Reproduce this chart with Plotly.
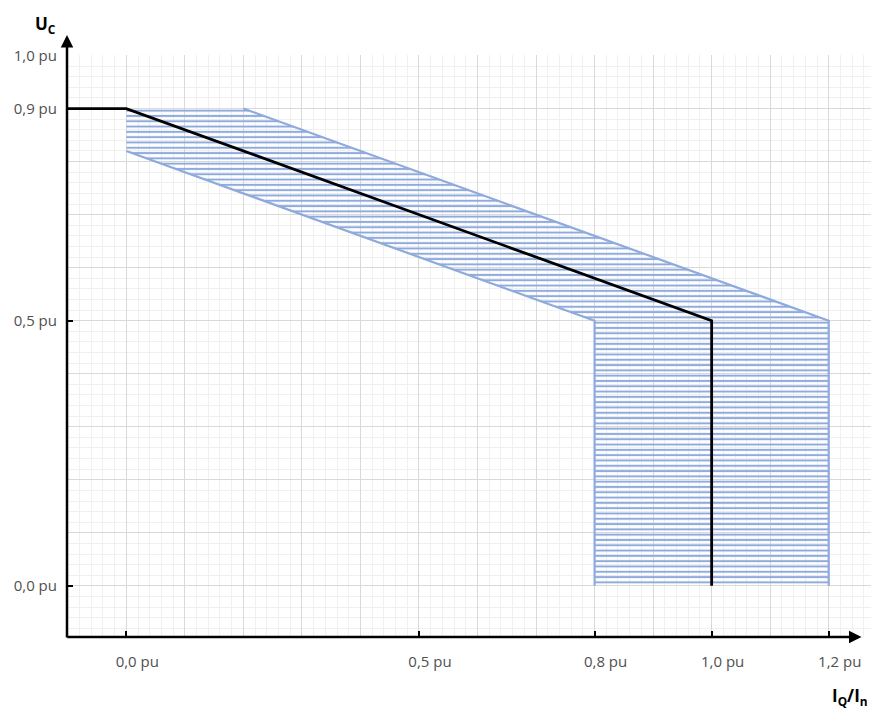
import plotly.graph_objects as go

# ---- data ----
x_min, x_max = -0.1013, 1.2859
y_min, y_max = -0.0964, 1.001
x_arrow_tip = 1.256

x_tick_vals = [0.0, 0.5, 0.8, 1.0, 1.2]
x_tick_text = ["0,0 pu", "0,5 pu", "0,8 pu", "1,0 pu", "1,2 pu"]
y_tick_vals = [0.0, 0.5, 0.9, 1.0]
y_tick_text = ["0,0 pu", "0,5 pu", "0,9 pu", "1,0 pu"]

band_x = [0.0, 0.2, 1.2, 1.2, 0.8, 0.8, 0.0]
band_y = [0.9, 0.9, 0.5, 0.0, 0.0, 0.5, 0.82]
upper_x = [0.2, 1.2, 1.2]
upper_y = [0.9, 0.5, 0.0]
lower_x = [0.0, 0.8, 0.8]
lower_y = [0.82, 0.5, 0.0]
curve_x = [x_min, 0.0, 1.0, 1.0]
curve_y = [0.9, 0.9, 0.5, 0.0]

BLUE = "#8FAADC"
LABEL_GREY = "#505050"
FONT = "Open Sans"

fig = go.Figure()

fig.add_trace(go.Scatter(
    x=band_x, y=band_y, fill="toself", mode="none",
    fillcolor="rgba(0,0,0,0)",
    fillpattern=dict(shape="-", fgcolor=BLUE, bgcolor="rgba(0,0,0,0)",
                     size=5.3, solidity=0.38, fillmode="replace"),
    hoverinfo="skip", showlegend=False,
))
fig.add_trace(go.Scatter(x=upper_x, y=upper_y, mode="lines",
                         line=dict(color=BLUE, width=2.2), showlegend=False))
fig.add_trace(go.Scatter(x=lower_x, y=lower_y, mode="lines",
                         line=dict(color=BLUE, width=2.2), showlegend=False))
fig.add_trace(go.Scatter(x=curve_x, y=curve_y, mode="lines",
                         line=dict(color="black", width=2.8), showlegend=False,
                         xaxis="x2", yaxis="y2"))

grid_major = "#D9D9D9"
grid_minor = "#F0F0F0"

# plot area: window x 67..879, y 55..637.5 (page has 8px body margin)
plot_h = 582.5
arrow_extra = 20  # px the y-axis arrow rises above the top gridline

fig.update_layout(
    width=871, height=703,
    margin=dict(l=59, r=0, t=47, b=73.5, pad=0),
    paper_bgcolor="white", plot_bgcolor="white",
    xaxis=dict(range=[x_min, x_max], tick0=0, dtick=0.1,
               showgrid=True, gridcolor=grid_major, gridwidth=1,
               minor=dict(tick0=0, dtick=0.02, showgrid=True,
                          gridcolor=grid_minor, gridwidth=1),
               showticklabels=False, ticks="", zeroline=False, showline=False),
    yaxis=dict(range=[y_min, y_max], tick0=0, dtick=0.1,
               showgrid=True, gridcolor=grid_major, gridwidth=1,
               minor=dict(tick0=0, dtick=0.02, showgrid=True,
                          gridcolor=grid_minor, gridwidth=1),
               showticklabels=False, ticks="", zeroline=False, showline=False),
    xaxis2=dict(range=[x_min, x_max], overlaying="x", anchor="y2", side="bottom",
                tickmode="array", tickvals=x_tick_vals, ticktext=x_tick_text,
                ticks="inside", ticklen=6, tickwidth=2, tickcolor="black",
                ticklabelshift=11, ticklabelstandoff=14,
                tickfont=dict(family=FONT, size=15, color=LABEL_GREY),
                showgrid=False, zeroline=False, showline=False),
    yaxis2=dict(range=[y_min, y_max], overlaying="y", anchor="x2", side="left",
                tickmode="array", tickvals=y_tick_vals, ticktext=y_tick_text,
                ticks="inside", ticklen=6, tickwidth=2, tickcolor="black",
                ticklabelstandoff=9,
                tickfont=dict(family=FONT, size=15, color=LABEL_GREY),
                showgrid=False, zeroline=False, showline=False),
    annotations=[
        # y axis with arrow
        dict(xref="paper", yref="paper", x=0, y=1 + arrow_extra / plot_h,
             text="", showarrow=True,
             axref="pixel", ayref="pixel", ax=0, ay=plot_h + arrow_extra + 1.5,
             arrowhead=2, arrowsize=1.0, arrowwidth=2.5, arrowcolor="black",
             standoff=0, startstandoff=0),
        # x axis with arrow
        dict(xref="x", yref="paper", x=x_arrow_tip, y=0, text="", showarrow=True,
             axref="x", ayref="pixel", ax=x_min - 0.002, ay=0,
             arrowhead=2, arrowsize=1.0, arrowwidth=2.5, arrowcolor="black",
             standoff=0, startstandoff=0),
        dict(xref="paper", yref="paper", x=-0.027, y=1 + 31 / plot_h,
             xanchor="center", yanchor="middle",
             text="<b>U<sub>C</sub></b>", showarrow=False,
             font=dict(family=FONT, size=17, color="black")),
        dict(xref="paper", yref="paper", x=0.989, y=-59.5 / plot_h,
             xanchor="right", yanchor="middle",
             text="<b>I<sub>Q</sub>/I<sub>n</sub></b>", showarrow=False,
             font=dict(family=FONT, size=17, color="black")),
    ],
)

fig.write_html("out.html")
